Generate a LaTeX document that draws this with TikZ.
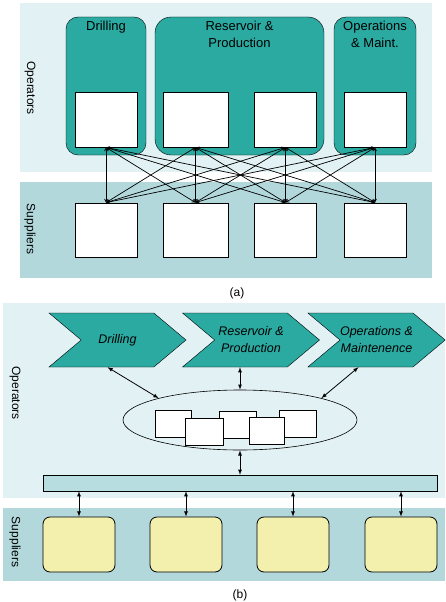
\documentclass[tikz,border=0pt]{standalone}
\usepackage{fontspec}
\setmainfont{Liberation Sans}
\usetikzlibrary{shapes.geometric,shapes.symbols,arrows,positioning}
\definecolor{opteal}{HTML}{2BAAA2}
\definecolor{oplight}{HTML}{E2F1F3}
\definecolor{supband}{HTML}{B2D8DC}
\definecolor{busfill}{HTML}{B8DDE1}
\definecolor{supyellow}{HTML}{F2F0AC}
\tikzset
{
    band/.style     = {rectangle, inner sep=0pt, draw=none},
    sidelabel/.style = {rotate=-90, font=\fontsize{12}{14}\selectfont},
    unit/.style     = {rectangle, draw=black, fill=opteal, rounded corners=12pt, inner sep=0pt},
    unitlabel/.style = {anchor=north, align=center, inner sep=4pt, font=\fontsize{13}{17}\selectfont},
    whitebox/.style = {rectangle, draw=black, thick, fill=white, inner sep=0pt, minimum width=62, minimum height=55},
    smallbox/.style = {rectangle, draw=black, thick, fill=white, inner sep=0pt, minimum width=37, minimum height=27},
    chevron/.style  = {signal, signal to=east, signal from=west, signal pointer angle=80, draw=black, fill=opteal, inner sep=0pt, minimum width=137, minimum height=54, align=center, font=\itshape\fontsize{12.5}{17}\selectfont},
    supplier/.style = {rectangle, draw=black, thick, fill=supyellow, rounded corners=7pt, inner sep=0pt, minimum width=72, minimum height=55},
    link/.style     = {<->, >=latex, thick},
    caption/.style  = {font=\fontsize{12}{14}\selectfont}
}
\begin{document}
\begin{tikzpicture}[x=1pt, y=-1pt]
   \useasboundingbox (0,0) rectangle (445,602);

	 \newcommand\COLA{106}
	 \newcommand\COLB{195.5}
	 \newcommand\COLC{285.5}
	 \newcommand\COLD{375}

   %% (a)
   \node (opa)	[band, fill=oplight, minimum width=412, minimum height=169]	at (226, 87.5)	{};
   \node (supa)	[band, fill=supband, minimum width=412, minimum height=96]	at (226, 230)	{};
   \node (opla)	[sidelabel]	at (30, 88)		{Operators};
   \node (supla)	[sidelabel]	at (30, 229)	{Suppliers};

   \node (dr)	[unit, minimum width=80, minimum height=138, label={[unitlabel]north:Drilling}]	at (\COLA, 86)	{};
   \node (rp)	[unit, minimum width=169, minimum height=138, rounded corners=16pt, label={[unitlabel]north:Reservoir \&\\Production}]	at (239.5, 86)	{};
   \node (om)	[unit, minimum width=82, minimum height=138, label={[unitlabel]north:Operations\\\& Maint.}]	at (\COLD, 86)	{};

   \node (o1)	[whitebox]	at (\COLA, 119.5)	{};
   \node (o2)	[whitebox, minimum width=65]	at (\COLB, 119.5)	{};
   \node (o3)	[whitebox]	at (\COLC, 119.5)	{};
   \node (o4)	[whitebox]	at (\COLD, 119.5)	{};
   \node (s1)	[whitebox, minimum height=54]	at (\COLA, 230)	{};
   \node (s2)	[whitebox, minimum height=54, minimum width=65]	at (\COLB, 230)	{};
   \node (s3)	[whitebox, minimum height=54]	at (\COLC, 230)	{};
   \node (s4)	[whitebox, minimum height=54]	at (\COLD, 230)	{};

   \path[every edge/.style={draw, <->, >=stealth, line width=0.7pt}]
      (o1.south) edge (s1.north)
      (o1.south) edge (s2.north)
      (o1.south) edge (s3.north)
      (o1.south) edge (s4.north)
      (o2.south) edge (s1.north)
      (o2.south) edge (s2.north)
      (o2.south) edge (s3.north)
      (o2.south) edge (s4.north)
      (o3.south) edge (s1.north)
      (o3.south) edge (s2.north)
      (o3.south) edge (s3.north)
      (o3.south) edge (s4.north)
      (o4.south) edge (s1.north)
      (o4.south) edge (s2.north)
      (o4.south) edge (s3.north)
      (o4.south) edge (s4.north);

   \node (capa)	[caption]	at (237, 293)	{(a)};

   %% (b)
   \node (opb)	[band, fill=oplight, minimum width=442, minimum height=195]	at (224, 400.5)	{};
   \node (supb)	[band, fill=supband, minimum width=442, minimum height=73]	at (224, 544.5)	{};
   \node (oplb)	[sidelabel]	at (15, 393)	{Operators};
   \node (suplb)	[sidelabel]	at (15, 542)	{Suppliers};

   \node (cdr)	[chevron]	at (117.5, 340)	{Drilling};
   \node (crp)	[chevron]	at (251, 340)	{Reservoir \&\\Production};
   \node (com)	[chevron]	at (376.5, 340)	{Operations \&\\Maintenence};

   \node (el)	[ellipse, draw=black, semithick, minimum width=234, minimum height=60]	at (240, 420)	{};
   \node (b1)	[smallbox, minimum width=36]	at (173, 423.5)	{};
   \node (b3)	[smallbox]	at (237.5, 425)	{};
   \node (b5)	[smallbox]	at (297.5, 423.5)	{};
   \node (b2)	[smallbox, minimum width=38]	at (204, 432)	{};
   \node (b4)	[smallbox, minimum width=35]	at (266.5, 430.5)	{};

   \node (bus)	[rectangle, draw=black, fill=busfill, inner sep=0pt, minimum width=394, minimum height=16]	at (240, 483)	{};

   \node (y1)	[supplier]	at (79, 544.5)	{};
   \node (y2)	[supplier]	at (186, 544.5)	{};
   \node (y3)	[supplier]	at (293, 544.5)	{};
   \node (y4)	[supplier]	at (401, 544.5)	{};

   \path[every edge/.style={draw, link}]
      ([xshift=-10pt]cdr.south)	edge	(el.165)
      (el.north |- crp.south)	edge	(el.north)
      ([xshift=-18pt]com.south)	edge	(el.15)
      (el.south)	edge	(bus.north)
      (bus.south -| y1.north)	edge	(y1.north)
      (bus.south -| y2.north)	edge	(y2.north)
      (bus.south -| y3.north)	edge	(y3.north)
      (bus.south -| y4.north)	edge	(y4.north);

   \node (capb)	[caption]	at (240, 595)	{(b)};
\end{tikzpicture}
\end{document}
